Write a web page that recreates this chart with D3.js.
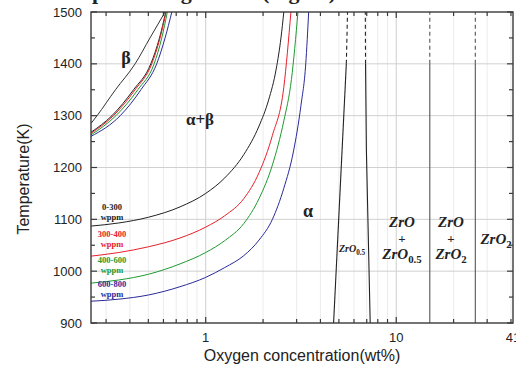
<!DOCTYPE html>
<html>
<head>
<meta charset="utf-8">
<script src="https://cdn.jsdelivr.net/npm/d3@7"></script>
<style>
  body { margin: 0; background: #fff; }
  svg text { font-family: "Liberation Sans", Arial, sans-serif; fill: #222; }
  .serif { font-family: "Liberation Serif", "Times New Roman", serif !important; font-weight: bold; }
</style>
</head>
<body>
<svg id="chart" width="516" height="369"></svg>
<script>
// axis values
const yTicks = [900, 1000, 1100, 1200, 1300, 1400, 1500];
const yMinorTicks = [950, 1050, 1150, 1250, 1350, 1450];
const xMajorTicks = [1, 10];
const xMinorTicks = [0.3, 0.4, 0.5, 0.6, 0.7, 0.8, 0.9, 2, 3, 4, 5, 6, 7, 8, 9, 20, 30, 40];
const xTickLabels = [[1, '1'], [10, '10'], [41, '41']];

// hydrogen content groups
const groups = ['0-300', '300-400', '400-600', '600-800'];
const groupColors = ['#222222', '#e8202a', '#1f9a2e', '#2a2a9a'];

// alpha / alpha+beta boundary  [wt% O, K]
const alphaBlack = [[0.25, 1087], [0.35, 1093], [0.5, 1104], [0.733, 1124], [1.0, 1150], [1.259, 1180], [1.585, 1225], [1.905, 1280], [2.138, 1330], [2.344, 1390], [2.483, 1450], [2.57, 1500]];
const alphaRed   = [[0.25, 1029], [0.35, 1036], [0.5, 1047], [0.733, 1064], [1.0, 1085], [1.259, 1107], [1.585, 1140], [1.905, 1190], [2.239, 1262], [2.57, 1355], [2.8, 1500]];
const alphaGreen = [[0.25, 977], [0.35, 983], [0.5, 994], [0.733, 1014], [1.0, 1036], [1.259, 1059], [1.585, 1092], [1.905, 1140], [2.239, 1205], [2.57, 1290], [2.818, 1370], [3.05, 1500]];
const alphaBlue  = [[0.25, 942], [0.35, 946], [0.5, 954], [0.733, 970], [1.0, 988], [1.259, 1007], [1.585, 1030], [1.905, 1060], [2.239, 1100], [2.57, 1160], [2.884, 1230], [3.162, 1320], [3.35, 1400], [3.47, 1500]];

// beta / alpha+beta boundary
const betaBlack = [[0.25, 1268], [0.322, 1300], [0.418, 1350], [0.515, 1400], [0.572, 1450], [0.617, 1500]];
const betaRed   = [[0.25, 1266], [0.328, 1300], [0.426, 1350], [0.521, 1400], [0.576, 1450], [0.62, 1500]];
const betaGreen = [[0.25, 1263], [0.338, 1300], [0.44, 1350], [0.536, 1400], [0.588, 1450], [0.629, 1500]];
const betaBlue  = [[0.25, 1260], [0.356, 1300], [0.457, 1350], [0.553, 1400], [0.612, 1450], [0.664, 1500]];
const betaPure  = [[0.25, 1285], [0.269, 1300], [0.336, 1350], [0.426, 1400], [0.51, 1450], [0.612, 1500]];

const alphaSets = [alphaBlack, alphaRed, alphaGreen, alphaBlue];
const betaSets = [betaBlack, betaRed, betaGreen, betaBlue];

// oxide phase boundaries: solid part, dashed part
const oxideLines = [
  { solid: [[4.69, 900], [5.47, 1400]], dashed: [[5.47, 1400], [5.55, 1500]], color: '#222' },
  { solid: [[7.3, 900], [6.97, 1234], [6.9, 1400]], dashed: [[6.9, 1400], [6.88, 1500]], color: '#222' },
  { solid: [[15, 900], [15, 1400]], dashed: [[15, 1400], [15, 1500]], color: '#555' },
  { solid: [[26, 900], [26, 1400]], dashed: [[26, 1400], [26, 1500]], color: '#555' }
];

const svg = d3.select('#chart');
const x = d3.scaleLog().domain([0.25, 41]).range([91, 513]);
const y = d3.scaleLinear().domain([900, 1500]).range([323, 12]);

// title (cut off above the frame, only descenders show)
svg.append('text').attr('class', 'serif').attr('y', -1).style('font-size', '22px')
  .call(t => {
    t.append('tspan').attr('x', 92).text('phase diagram');
    t.append('tspan').attr('x', 262).text('(region)');
  });

svg.append('defs').append('clipPath').attr('id', 'plot')
  .append('rect').attr('x', 91).attr('y', 12).attr('width', 422).attr('height', 311);

// grid
const grid = svg.append('g');
grid.selectAll('.vmin').data(xMinorTicks).enter().append('line')
  .attr('x1', d => x(d)).attr('x2', d => x(d)).attr('y1', y(900)).attr('y2', y(1500))
  .attr('stroke', '#ececec').attr('stroke-width', 1);
grid.selectAll('.vmaj').data(xMajorTicks).enter().append('line')
  .attr('x1', d => x(d)).attr('x2', d => x(d)).attr('y1', y(900)).attr('y2', y(1500))
  .attr('stroke', '#cfcfcf').attr('stroke-width', 1);
grid.selectAll('.h').data(yTicks.slice(1, -1)).enter().append('line')
  .attr('x1', x(0.25)).attr('x2', x(41)).attr('y1', d => y(d)).attr('y2', d => y(d))
  .attr('stroke', '#d0d0d0').attr('stroke-width', 1);

const plot = svg.append('g').attr('clip-path', 'url(#plot)');
const line = d3.line().x(d => x(d[0])).y(d => y(d[1])).curve(d3.curveMonotoneX);
const straight = d3.line().x(d => x(d[0])).y(d => y(d[1]));

alphaSets.forEach((s, i) => {
  plot.append('path').attr('d', line(s)).attr('fill', 'none')
    .attr('stroke', groupColors[i]).attr('stroke-width', 1);
});
betaSets.forEach((s, i) => {
  plot.append('path').attr('d', line(s)).attr('fill', 'none')
    .attr('stroke', groupColors[i]).attr('stroke-width', 1);
});
plot.append('path').attr('d', line(betaPure)).attr('fill', 'none')
  .attr('stroke', '#333').attr('stroke-width', 1);

oxideLines.forEach(o => {
  plot.append('path').attr('d', straight(o.solid)).attr('fill', 'none')
    .attr('stroke', o.color).attr('stroke-width', 1.1);
  plot.append('path').attr('d', straight(o.dashed)).attr('fill', 'none')
    .attr('stroke', o.color).attr('stroke-width', 1.1).attr('stroke-dasharray', '4,3');
});

// frame and inward ticks
svg.append('rect').attr('x', 91).attr('y', 12).attr('width', 422).attr('height', 311)
  .attr('fill', 'none').attr('stroke', '#3a3a3a').attr('stroke-width', 1.4);

const ticks = svg.append('g').attr('stroke', '#3a3a3a').attr('stroke-width', 1.2);
const xt = [...xMajorTicks.map(v => [v, 6]), ...xMinorTicks.map(v => [v, 4])];
xt.forEach(([v, len]) => {
  ticks.append('line').attr('x1', x(v)).attr('x2', x(v)).attr('y1', y(900)).attr('y2', y(900) - len);
  ticks.append('line').attr('x1', x(v)).attr('x2', x(v)).attr('y1', y(1500)).attr('y2', y(1500) + len);
});
const yt = [...yTicks.map(v => [v, 6]), ...yMinorTicks.map(v => [v, 4])];
yt.forEach(([v, len]) => {
  ticks.append('line').attr('x1', x(0.25)).attr('x2', x(0.25) + len).attr('y1', y(v)).attr('y2', y(v));
  ticks.append('line').attr('x1', x(41)).attr('x2', x(41) - len).attr('y1', y(v)).attr('y2', y(v));
});

// tick labels
svg.selectAll('.yl').data(yTicks).enter().append('text')
  .attr('x', 82).attr('y', d => y(d) + 4.5).attr('text-anchor', 'end')
  .style('font-size', '13px').text(d => d);
svg.selectAll('.xl').data(xTickLabels).enter().append('text')
  .attr('x', d => x(d[0])).attr('y', 342).attr('text-anchor', 'middle')
  .style('font-size', '13px').text(d => d[1]);

// axis titles
svg.append('text').attr('x', 302).attr('y', 361).attr('text-anchor', 'middle')
  .style('font-size', '16px').text('Oxygen concentration(wt%)');
svg.append('text').attr('transform', 'translate(29,179) rotate(-90)').attr('text-anchor', 'middle')
  .style('font-size', '16px').text('Temperature(K)');

// phase labels
const phase = (tx, ty, txt, size) => svg.append('text').attr('class', 'serif')
  .attr('x', tx).attr('y', ty).attr('text-anchor', 'middle').style('font-size', size + 'px').text(txt);
phase(126, 64, 'β', 18);
phase(200, 125, 'α+β', 17);
phase(308, 217, 'α', 18);

// group labels
const labelBase = [210, 237, 263, 287];
groups.forEach((g, i) => {
  svg.append('text').attr('class', 'serif').attr('x', 112).attr('y', labelBase[i])
    .attr('text-anchor', 'middle').style('font-size', '8.5px').style('fill', groupColors[i]).text(g);
  svg.append('text').attr('class', 'serif').attr('x', 112).attr('y', labelBase[i] + 10)
    .attr('text-anchor', 'middle').style('font-size', '8.5px').style('fill', groupColors[i]).text('wppm');
});

// oxide labels (italic, with subscripts)
const oxide = (tx, ty, sub, size) => {
  const t = svg.append('text').attr('class', 'serif').attr('x', tx).attr('y', ty)
    .attr('text-anchor', 'middle').style('font-size', size + 'px').style('font-style', 'italic');
  t.append('tspan').text('ZrO');
  if (sub) t.append('tspan').attr('dy', size * 0.25).style('font-size', (size * 0.72) + 'px')
    .style('font-style', 'normal').text(sub);
};
oxide(352, 252, '0.5', 10);
oxide(402, 227, '', 15);
phase(402, 243, '+', 13);
oxide(402, 259, '0.5', 15);
oxide(451, 227, '', 15);
phase(451, 243, '+', 13);
oxide(451, 259, '2', 15);
oxide(496, 244, '2', 15);
</script>
</body>
</html>
